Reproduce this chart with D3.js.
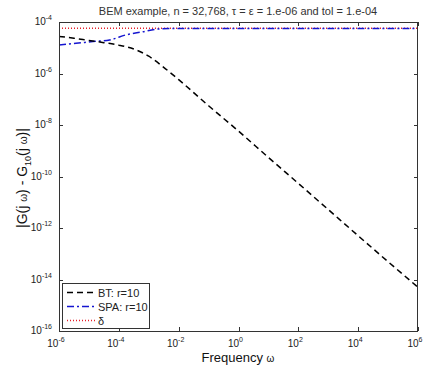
<!DOCTYPE html>
<html><head><meta charset="utf-8">
<script src="https://cdn.jsdelivr.net/npm/d3@7"></script>
<style>body{margin:0;background:#fff}svg{display:block}text{font-family:"Liberation Sans",Arial,sans-serif}</style>
</head><body><svg id="c" width="428" height="365"></svg>
<script>
const title = "BEM example,  n = 32,768, τ = ε = 1.e-06 and tol = 1.e-04";
const xTickExps = [-6, -4, -2, 0, 2, 4, 6];
const yTickExps = [-16, -14, -12, -10, -8, -6, -4];
const btFreq = [1e-6, 3.16e-6, 1e-5, 3.16e-5, 1e-4, 3.16e-4, 1e-3, 3.16e-3, 1e-2, 1e-1, 1, 10, 100, 1e3, 1e4, 1e5, 1e6];
const btVals = [2.75e-5, 2.34e-5, 1.91e-5, 1.58e-5, 1.26e-5, 8.9e-6, 4.7e-6, 1.74e-6, 5.8e-7, 5.6e-8, 5.8e-9, 5.5e-10, 5.4e-11, 5.2e-12, 5.0e-13, 4.9e-14, 5.0e-15];
const spaFreq = [1e-6, 3.7e-6, 1.35e-5, 4.9e-5, 1.74e-4, 6.3e-4, 1.74e-3, 4.9e-3, 1e-2, 1e6];
const spaVals = [1.29e-5, 1.48e-5, 1.74e-5, 2.0e-5, 3.16e-5, 4.17e-5, 5.25e-5, 5.6e-5, 5.6e-5, 5.6e-5];
const deltaFreq = [1e-6, 1e6];
const deltaVals = [5.7e-5, 5.7e-5];
const legendLabels = ["BT: r=10", "SPA: r=10", "δ"];

const svg = d3.select("#c");
const L = 59, R = 418, T = 22, B = 331;
const x = d3.scaleLog().domain([1e-6, 1e6]).range([L, R]);
const y = d3.scaleLog().domain([1e-16, 1e-4]).range([B, T]);

svg.append("defs").append("clipPath").attr("id", "clip")
  .append("rect").attr("x", L).attr("y", T).attr("width", R - L).attr("height", B - T);

// ticks (inward, all four sides)
const tk = 4;
const gt = svg.append("g").attr("stroke", "#333").attr("stroke-width", 1);
xTickExps.forEach(e => {
  const px = Math.round(x(Math.pow(10, e))) + 0.5;
  gt.append("line").attr("x1", px).attr("x2", px).attr("y1", B).attr("y2", B - tk);
  gt.append("line").attr("x1", px).attr("x2", px).attr("y1", T).attr("y2", T + tk);
});
yTickExps.forEach(e => {
  const py = Math.round(y(Math.pow(10, e))) + 0.5;
  gt.append("line").attr("x1", L).attr("x2", L + tk).attr("y1", py).attr("y2", py);
  gt.append("line").attr("x1", R).attr("x2", R - tk).attr("y1", py).attr("y2", py);
});

// tick labels
xTickExps.forEach(e => {
  const t = svg.append("text").attr("x", x(Math.pow(10, e)) - 3).attr("y", B + 16)
    .attr("text-anchor", "middle").attr("font-size", 10).attr("fill", "#222");
  t.append("tspan").text("10");
  t.append("tspan").attr("dy", -5).attr("font-size", 7).text(e);
});
yTickExps.forEach(e => {
  const t = svg.append("text").attr("x", 52).attr("y", y(Math.pow(10, e)) + 3)
    .attr("text-anchor", "end").attr("font-size", 10).attr("fill", "#222");
  t.append("tspan").text("10");
  t.append("tspan").attr("dy", -5).attr("font-size", 7).text(e);
});

// lines
const line = d3.line().x(d => x(d[0])).y(d => y(d[1])).curve(d3.curveMonotoneX);
const gl = svg.append("g").attr("clip-path", "url(#clip)").attr("fill", "none");
gl.append("path").datum(d3.zip(deltaFreq, deltaVals)).attr("d", line)
  .attr("stroke", "#e8202a").attr("stroke-width", 1.5).attr("stroke-dasharray", "1,2");
gl.append("path").datum(d3.zip(spaFreq, spaVals)).attr("d", line)
  .attr("stroke", "#1515d0").attr("stroke-width", 1.5).attr("stroke-dasharray", "7,3,2,3");
gl.append("path").datum(d3.zip(btFreq, btVals)).attr("d", line)
  .attr("stroke", "#000").attr("stroke-width", 1.5).attr("stroke-dasharray", "6,4");

// box
svg.append("rect").attr("x", L + 0.5).attr("y", T + 0.5).attr("width", R - L - 1).attr("height", B - T)
  .attr("fill", "none").attr("stroke", "#333").attr("stroke-width", 1);

// legend
const lg = svg.append("g");
lg.append("rect").attr("x", 62.5).attr("y", 283.5).attr("width", 87).attr("height", 45)
  .attr("fill", "#fff").attr("stroke", "#333").attr("stroke-width", 1);
const styles = [
  {c: "#000", d: "6,4"},
  {c: "#1515d0", d: "7,3,2,3"},
  {c: "#e8202a", d: "1,2"}
];
legendLabels.forEach((lab, i) => {
  const ly = 292.5 + i * 14;
  lg.append("line").attr("x1", 67).attr("x2", 96).attr("y1", ly).attr("y2", ly)
    .attr("stroke", styles[i].c).attr("stroke-width", 1.5).attr("stroke-dasharray", styles[i].d);
  lg.append("text").attr("x", 98).attr("y", ly + 4).attr("font-size", 11).attr("fill", "#222").text(lab);
});

// title
svg.append("text").attr("x", 238).attr("y", 15).attr("text-anchor", "middle")
  .attr("font-size", 11).attr("fill", "#333").text(title);

// x label
const xl = svg.append("text").attr("x", 238).attr("y", 362).attr("text-anchor", "middle")
  .attr("font-size", 13).attr("fill", "#111");
xl.append("tspan").text("Frequency ");
xl.append("tspan").attr("font-size", 10).text("ω");

// y label
const yl = svg.append("text").attr("transform", "translate(27,178) rotate(-90)")
  .attr("text-anchor", "middle").attr("font-size", 14).attr("fill", "#111");
yl.append("tspan").text("|G(j ");
yl.append("tspan").attr("font-size", 10).text("ω");
yl.append("tspan").text(") - G");
yl.append("tspan").attr("font-size", 9).attr("dy", 4).text("10");
yl.append("tspan").attr("dy", -4).text("(j ");
yl.append("tspan").attr("font-size", 10).text("ω");
yl.append("tspan").text(")|");
</script></body></html>
